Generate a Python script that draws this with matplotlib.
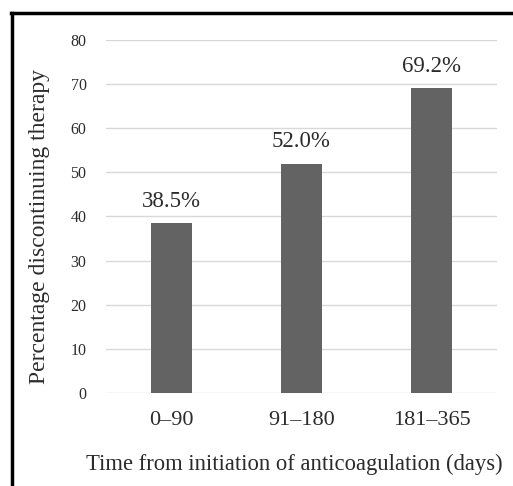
import matplotlib
matplotlib.use("Agg")
import matplotlib.pyplot as plt

plt.rcParams['font.family'] = ['Liberation Serif', 'DejaVu Serif']

# data
periods = ['0\u201390', '91\u2013180', '181\u2013365']
pct_discontinued = [38.5, 52.0, 69.2]
bar_labels = ['38.5%', '52.0%', '69.2%']
y_ticks = [0, 10, 20, 30, 40, 50, 60, 70, 80]

txt = '#2b2b2b'

fig = plt.figure(figsize=(5.13, 4.86), dpi=100)
ax = fig.add_axes([0.2066, 0.1914, 0.7622, 0.7263])

x = range(len(periods))
bars = ax.bar(x, pct_discontinued, width=0.314, color='#636363', zorder=3)
for b, lab in zip(bars, bar_labels):
    ax.annotate(lab, (b.get_x() + b.get_width() / 2, b.get_height()),
                xytext=(0, 8), textcoords='offset points',
                ha='center', va='bottom', fontsize=16.5, color=txt)

ax.set_xlim(-0.5, 2.5)
ax.set_ylim(0, 80)
ax.set_yticks(y_ticks)
ax.set_xticks(list(x))
ax.set_xticklabels(periods, fontsize=16, color=txt)
ax.tick_params(axis='y', labelsize=11.5, labelcolor=txt, length=0, pad=14)
ax.tick_params(axis='x', length=0, pad=13)
ax.grid(axis='y', color='#d9d9d9', linewidth=1, zorder=0)
for s in ax.spines.values():
    s.set_visible(False)

ax.set_ylabel('Percentage discontinuing therapy', fontsize=17, color=txt)
ax.yaxis.set_label_coords(-0.142, 0.473)
ax.set_xlabel('Time from initiation of anticoagulation (days)', fontsize=16.3, color=txt)
ax.xaxis.set_label_coords(0.482, -0.172)

# frame around the figure (only top and left visible in the reference)
fig.add_artist(plt.Line2D([12 / 513, 12 / 513], [0, 1 - 13 / 486], color='black', lw=2.5))
fig.add_artist(plt.Line2D([11 / 513, 1], [1 - 13 / 486, 1 - 13 / 486], color='black', lw=2.5))

fig.savefig('out.png', dpi=100)
